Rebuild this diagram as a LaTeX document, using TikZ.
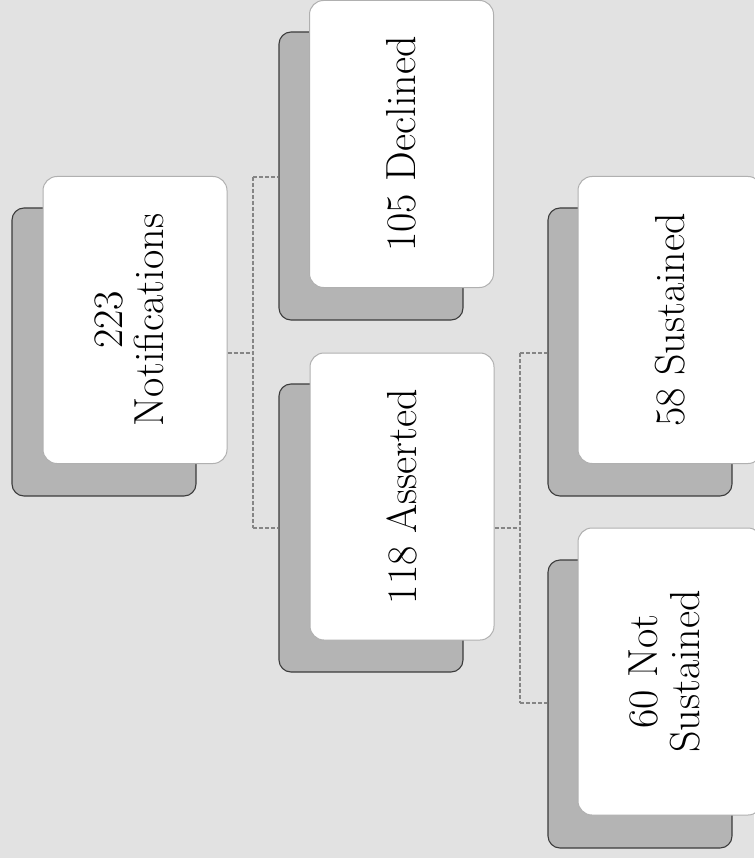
\documentclass[tikz,border=0pt]{standalone}
\usepackage{graphicx}
\definecolor{bgfill}{HTML}{E2E2E2}
\definecolor{shadowfill}{HTML}{B4B4B4}
\definecolor{shadowline}{HTML}{3C3C3C}
\definecolor{cardline}{HTML}{B0B0B0}
\definecolor{connline}{HTML}{858585}
\begin{document}
\begin{tikzpicture}[x=1pt,y=-1pt,
  card/.style={draw=cardline, line width=1pt, fill=white, rounded corners=14pt,
    minimum width=184pt, minimum height=287pt, inner sep=0pt,
    font=\fontsize{42}{39}\selectfont},
  shadowbox/.style={draw=shadowline, line width=1.1pt, fill=shadowfill, rounded corners=12pt,
    minimum width=184pt, minimum height=288pt, inner sep=0pt},
  conn/.style={draw=connline, line width=1.5pt, dash pattern=on 4pt off 2pt}]
\fill[bgfill] (0,0) rectangle (754,858);
\useasboundingbox (0,0) rectangle (754,858);
% shadows
\node[shadowbox] (Ns) at (104,352) {};
\node[shadowbox] (Ds) at (371,176) {};
\node[shadowbox] (As) at (371,528) {};
\node[shadowbox] (Ss) at (640,352) {};
\node[shadowbox] (NSs) at (640,704) {};
% connector joints
\coordinate (j1) at (253,353);
\coordinate (d1) at (253,177);
\coordinate (a1) at (253,528);
\coordinate (j2) at (520,528);
\coordinate (s1) at (520,353);
\coordinate (n1) at (520,703);
% cards
\node[card] (N) at (135,320) {\rotatebox{90}{\begin{tabular}{@{}c@{}}223\\Notifications\end{tabular}}};
\node[card] (D) at (401.5,144) {\rotatebox{90}{105 Declined}};
\node[card] (A) at (402,496.5) {\rotatebox{90}{118 Asserted}};
\node[card] (S) at (670,320) {\rotatebox{90}{58 Sustained}};
\node[card] (NS) at (670,671.5) {\rotatebox{90}{\begin{tabular}{@{}c@{}}60 Not\\Sustained\end{tabular}}};
\draw[conn] (N.east |- j1) -- (j1);
\draw[conn] (d1) -- (a1);
\draw[conn] (d1) -- (Ds.west |- d1);
\draw[conn] (a1) -- (As.west |- a1);
\draw[conn] (A.east |- j2) -- (j2);
\draw[conn] (s1) -- (n1);
\draw[conn] (s1) -- (Ss.west |- s1);
\draw[conn] (n1) -- (NSs.west |- n1);
\end{tikzpicture}
\end{document}
